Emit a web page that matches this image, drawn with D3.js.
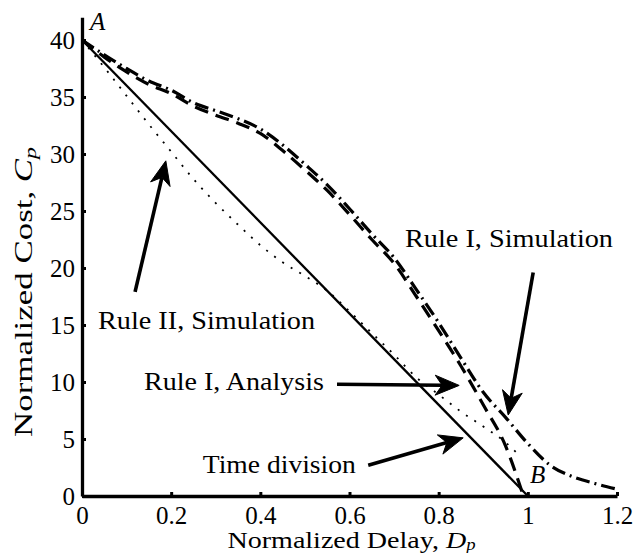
<!DOCTYPE html>
<html>
<head>
<meta charset="utf-8">
<script src="https://cdn.jsdelivr.net/npm/d3@7"></script>
<style>
  html, body { margin: 0; padding: 0; background: #fff; }
  svg { display: block; }
  text { font-family: "Liberation Serif", "Times New Roman", serif; fill: #000; }
</style>
</head>
<body>
<svg id="chart" width="634" height="553"></svg>
<script>
// ---------- data ----------
const xTicks = [0, 0.2, 0.4, 0.6, 0.8, 1, 1.2];
const xTickLabels = ["0", "0.2", "0.4", "0.6", "0.8", "1", "1.2"];
const yTicks = [0, 5, 10, 15, 20, 25, 30, 35, 40];
const yTickLabels = ["0", "5", "10", "15", "20", "25", "30", "35", "40"];

// Time division (solid)
const timeDivX = [0, 1];
const timeDivY = [40, 0];

// Rule II, Simulation (dotted)
const rule2X = [0, 0.05, 0.1, 0.15, 0.2, 0.25, 0.3, 0.35, 0.4, 0.45, 0.5, 0.55, 0.6, 0.65, 0.7, 0.75, 0.8, 0.85, 0.9, 0.95, 0.98];
const rule2Y = [40, 37.6, 35.1, 32.6, 30.2, 27.8, 25.7, 23.8, 22.0, 20.5, 19.3, 18.0, 16.2, 14.3, 12.4, 10.4, 8.9, 7.4, 6.1, 4.7, 3.6];

// Rule I, Analysis (dashed)
const rule1AX = [0, 0.05, 0.1, 0.15, 0.2, 0.25, 0.3, 0.35, 0.4, 0.45, 0.5, 0.55, 0.6, 0.65, 0.7, 0.75, 0.8, 0.85, 0.9, 0.95, 0.99];
const rule1AY = [40, 38.5, 37.2, 36.1, 35.3, 34.2, 33.4, 32.7, 31.8, 30.3, 28.6, 26.8, 24.7, 22.5, 20.4, 17.5, 14.5, 11.4, 8.0, 4.4, 0];

// Rule I, Simulation (dash-dot)
const rule1SX = [0, 0.05, 0.1, 0.15, 0.2, 0.25, 0.3, 0.35, 0.4, 0.45, 0.5, 0.55, 0.6, 0.65, 0.7, 0.75, 0.8, 0.85, 0.9, 0.95, 1.0, 1.05, 1.1, 1.15, 1.2];
const rule1SY = [40, 38.7, 37.5, 36.4, 35.6, 34.5, 33.8, 33.1, 32.2, 30.8, 29.1, 27.3, 25.2, 23.0, 20.9, 18.1, 15.2, 12.1, 9.1, 6.9, 4.6, 2.7, 1.7, 1.1, 0.6];

// annotations
const annLabels = ["Rule I, Simulation", "Rule II, Simulation", "Rule I, Analysis", "Time division"];
const annTextX = [0.7245, 0.036, 0.139, 0.271];
const annTextY = [21.84, 14.65, 9.3, 2.0];
const annTailX = [1.012, 0.119, 0.572, 0.642];
const annTailY = [19.6, 17.9, 9.8, 2.7];
const annTipX = [0.956, 0.188, 0.846, 0.855];
const annTipY = [7.1, 29.4, 9.7, 5.1];
const annWidth = [208, 217, 180, 153];

// ---------- layout ----------
const svg = d3.select("#chart");
const x = d3.scaleLinear().domain([0, 1.2]).range([82, 617]);
const y = d3.scaleLinear().domain([0, 42]).range([496, 17.2]);

const line = d3.line().x(d => x(d[0])).y(d => y(d[1])).curve(d3.curveMonotoneX);
const zip = (a, b) => a.map((v, i) => [v, b[i]]);

// series
svg.append("path").datum(zip(timeDivX, timeDivY)).attr("d", line)
  .attr("fill", "none").attr("stroke", "#000").attr("stroke-width", 2.3);
svg.append("path").datum(zip(rule2X, rule2Y)).attr("d", line)
  .attr("fill", "none").attr("stroke", "#000").attr("stroke-width", 1.8)
  .attr("stroke-dasharray", "2,8");
svg.append("path").datum(zip(rule1AX, rule1AY)).attr("d", line)
  .attr("fill", "none").attr("stroke", "#000").attr("stroke-width", 3.2)
  .attr("stroke-dasharray", "14,8");
svg.append("path").datum(zip(rule1SX, rule1SY)).attr("d", line)
  .attr("fill", "none").attr("stroke", "#000").attr("stroke-width", 3.2)
  .attr("stroke-dasharray", "14,5,2,5");

// axes
const xAxis = d3.axisBottom(x).tickValues(xTicks).tickFormat((d, i) => xTickLabels[i])
  .tickSizeInner(-4).tickSizeOuter(0).tickPadding(10);
const yAxis = d3.axisLeft(y).tickValues(yTicks).tickFormat((d, i) => yTickLabels[i])
  .tickSizeInner(-4).tickSizeOuter(0).tickPadding(7);

const gx = svg.append("g").attr("transform", `translate(0,${y(0)})`).call(xAxis);
const gy = svg.append("g").attr("transform", `translate(${x(0)},0)`).call(yAxis);
[gx, gy].forEach(g => {
  g.attr("font-family", null);
  g.select(".domain").attr("stroke", "#000").attr("stroke-width", 3.3);
  g.selectAll(".tick line").attr("stroke", "#000").attr("stroke-width", 3);
  g.selectAll(".tick text").attr("font-size", 25).attr("fill", "#000");
});
gy.selectAll(".tick text").attr("dy", "0.34em");

// axis labels
const yl = svg.append("text").attr("transform", `translate(32,${292}) rotate(-90)`)
  .attr("text-anchor", "middle").attr("font-size", 25)
  .attr("textLength", 290).attr("lengthAdjust", "spacingAndGlyphs");
yl.append("tspan").text("Normalized Cost, ");
yl.append("tspan").attr("font-style", "italic").text("C");
yl.append("tspan").attr("font-style", "italic").attr("font-size", 17).attr("dy", 4).text("p");

const xl = svg.append("text").attr("x", (x(0) + x(1.2)) / 2 + 2).attr("y", 548)
  .attr("text-anchor", "middle").attr("font-size", 24)
  .attr("textLength", 248).attr("lengthAdjust", "spacingAndGlyphs");
xl.append("tspan").text("Normalized Delay, ");
xl.append("tspan").attr("font-style", "italic").text("D");
xl.append("tspan").attr("font-style", "italic").attr("font-size", 16).attr("dy", 2).text("p");

// point labels A, B
svg.append("text").attr("x", x(0.018)).attr("y", y(40.9)).attr("font-size", 25)
  .attr("font-style", "italic").text("A");
svg.append("text").attr("x", x(1.005)).attr("y", y(1.14)).attr("font-size", 25)
  .attr("font-style", "italic").text("B");

// annotations
annLabels.forEach((lab, i) => {
  svg.append("text").attr("x", x(annTextX[i])).attr("y", y(annTextY[i]))
    .attr("font-size", 25).attr("textLength", annWidth[i])
    .attr("lengthAdjust", "spacingAndGlyphs").text(lab);

  const x0 = x(annTailX[i]), y0 = y(annTailY[i]);
  const x1 = x(annTipX[i]), y1 = y(annTipY[i]);
  const dx = x1 - x0, dy = y1 - y0, len = Math.hypot(dx, dy);
  const ux = dx / len, uy = dy / len, px = -uy, py = ux;
  const L = 24, W = 10, N = 7;
  svg.append("line").attr("x1", x0).attr("y1", y0)
    .attr("x2", x1 - ux * (L - N)).attr("y2", y1 - uy * (L - N))
    .attr("stroke", "#000").attr("stroke-width", 3.6);
  const bx = x1 - ux * L, by = y1 - uy * L;
  const nx = x1 - ux * (L - N), ny = y1 - uy * (L - N);
  const pts = [[x1, y1], [bx + px * W, by + py * W], [nx, ny], [bx - px * W, by - py * W]];
  svg.append("path").attr("d", "M" + pts.map(p => p.join(",")).join("L") + "Z")
    .attr("fill", "#000").attr("stroke", "#000").attr("stroke-width", 1);
});
</script>
</body>
</html>
